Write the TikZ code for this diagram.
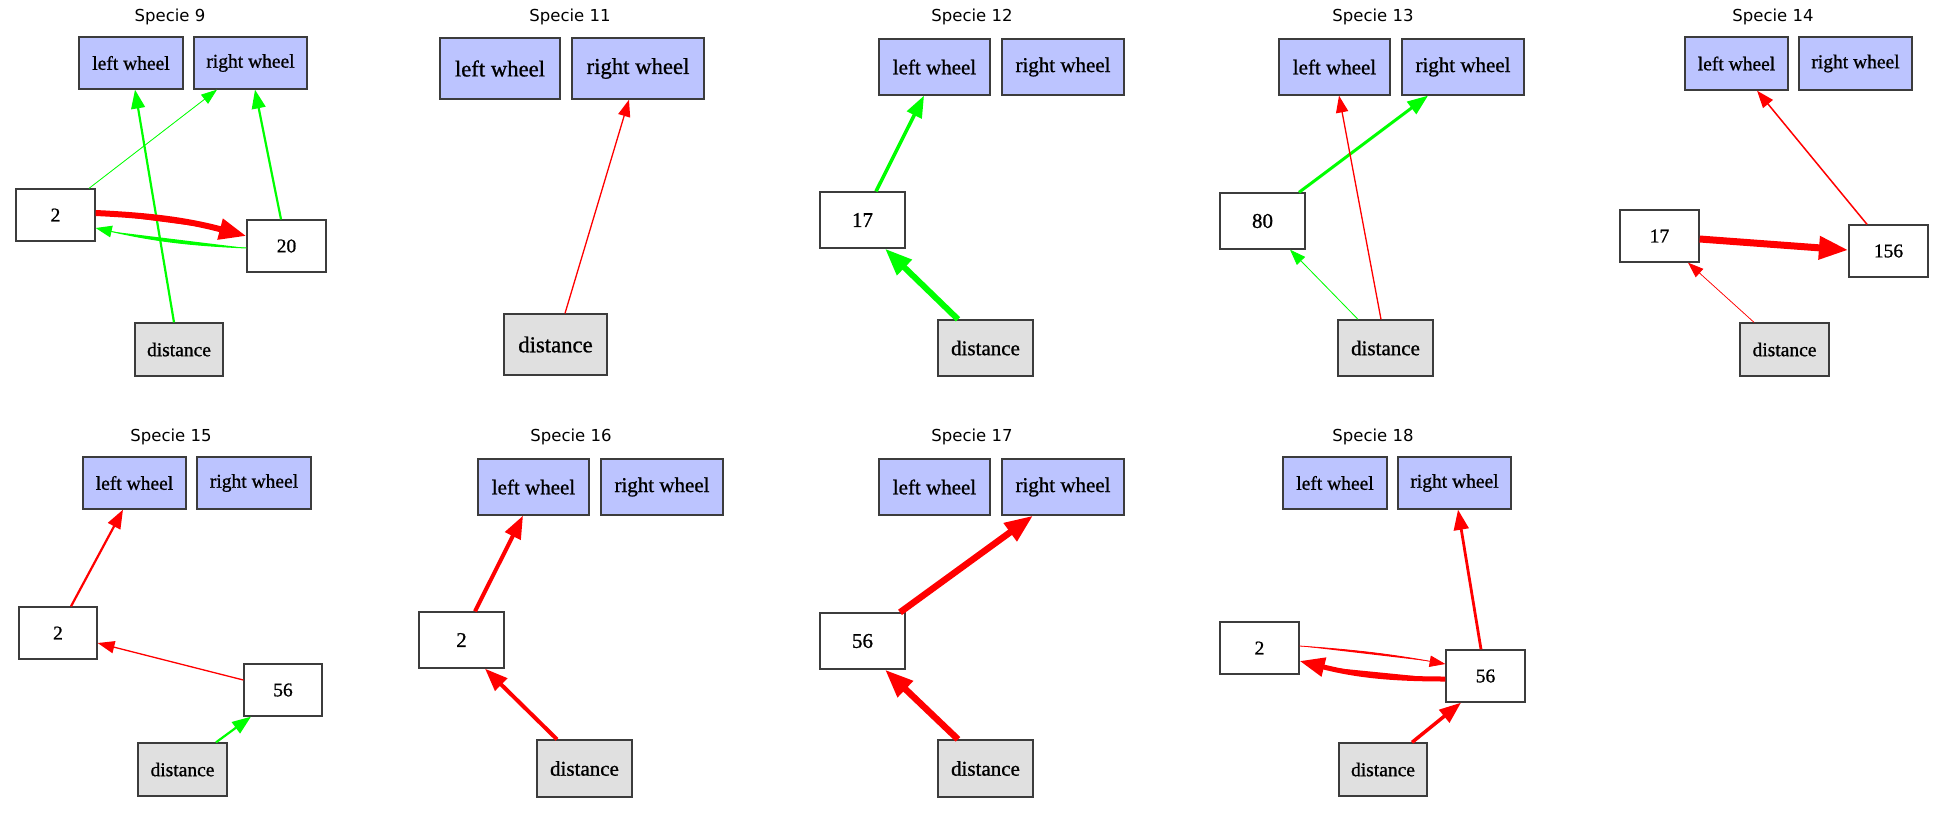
\documentclass[tikz,border=0pt]{standalone}
\usepackage{fontspec}
\usetikzlibrary{arrows.meta}
\newfontfamily\lab[FakeBold=0.9]{Liberation Serif}
\newfontfamily\ttl{DejaVu Sans}
\definecolor{wheelfill}{RGB}{188,196,255}
\definecolor{distfill}{RGB}{224,224,224}
\definecolor{boxline}{RGB}{60,60,60}
\definecolor{gE}{RGB}{0,255,0}
\definecolor{rE}{RGB}{255,0,0}
\tikzset{
  lbl/.style={font=\lab\fontsize{#1}{#1}\selectfont},
  box/.style={draw=boxline, line width=1.3pt, inner sep=0pt, text=black},
  wheel/.style={box, fill=wheelfill},
  dist/.style={box, fill=distfill},
  hidn/.style={box, fill=white},
  title/.style={font=\ttl\fontsize{16.5}{16.5}\selectfont, inner sep=0pt},
  conn/.style={line width=#1, -{Triangle[length=14pt 2.2, width=10pt 1.7]}},
  gc/.style={conn=#1, draw=gE, fill=gE},
  rc/.style={conn=#1, draw=rE, fill=rE},
}
\begin{document}
\begin{tikzpicture}[x=1pt, y=-1pt]
\fill[white] (0,0) rectangle (1942,812);
\useasboundingbox (0,0) rectangle (1942,812);

% ---------------- Specie 9
\begin{scope}[every node/.append style={lbl=19.5}]
\node[title] (t9) at (170,17) {Specie 9};
\node[wheel, minimum width=104pt, minimum height=52pt] (lw9) at (131,63) {left wheel};
\node[wheel, minimum width=113pt, minimum height=52pt] (rw9) at (250.5,63) {right wheel};
\node[hidn, minimum width=79pt, minimum height=52pt] (a9) at (55.5,215) {2};
\node[hidn, minimum width=79pt, minimum height=52pt] (b9) at (286.5,246) {20};
\node[dist, minimum width=88pt, minimum height=53pt] (d9) at (179,349.5) {distance};
\draw[gc=2.2pt] ([xshift=-5pt]d9.north) -- ([xshift=4pt]lw9.south);
\draw[gc=0.8pt] ([xshift=33.5pt]a9.north) -- ([xshift=-33.5pt]rw9.south);
\draw[gc=2.2pt] ([xshift=-5.5pt]b9.north) -- ([xshift=4.5pt]rw9.south);
\draw[rc=6pt] ([yshift=2pt]a9.east) to[bend left=6] ([yshift=10pt]b9.west);
\draw[gc=1pt] ([yshift=-2pt]b9.west) to[bend left=5] ([yshift=-13pt]a9.east);
\end{scope}

% ---------------- Specie 11
\begin{scope}[every node/.append style={lbl=22.7}]
\node[title] (t11) at (570,17) {Specie 11};
\node[wheel, minimum width=120pt, minimum height=61pt] (lw11) at (500,68.5) {left wheel};
\node[wheel, minimum width=132pt, minimum height=61pt] (rw11) at (638,68.5) {right wheel};
\node[dist, minimum width=103pt, minimum height=61pt] (d11) at (555.5,344.5) {distance};
\draw[rc=1.3pt] ([xshift=9.5pt]d11.north) -- ([xshift=-9pt]rw11.south);
\end{scope}

% ---------------- Specie 12
\begin{scope}[every node/.append style={lbl=21}]
\node[title] (t12) at (972,17) {Specie 12};
\node[wheel, minimum width=111pt, minimum height=56pt] (lw12) at (934.5,67) {left wheel};
\node[wheel, minimum width=122pt, minimum height=56pt] (rw12) at (1063,67) {right wheel};
\node[hidn, minimum width=85pt, minimum height=56pt] (a12) at (862.5,220) {17};
\node[dist, minimum width=95pt, minimum height=56pt] (d12) at (985.5,348) {distance};
\draw[gc=3.5pt] ([xshift=13.5pt]a12.north) -- ([xshift=-10.5pt]lw12.south);
\draw[gc=6pt] ([xshift=-27.5pt]d12.north) -- ([xshift=22.5pt]a12.south);
\end{scope}

% ---------------- Specie 13
\begin{scope}[every node/.append style={lbl=21}]
\node[title] (t13) at (1373,17) {Specie 13};
\node[wheel, minimum width=111pt, minimum height=56pt] (lw13) at (1334.5,67) {left wheel};
\node[wheel, minimum width=122pt, minimum height=56pt] (rw13) at (1463,67) {right wheel};
\node[hidn, minimum width=85pt, minimum height=56pt] (a13) at (1262.5,221) {80};
\node[dist, minimum width=95pt, minimum height=56pt] (d13) at (1385.5,348) {distance};
\draw[gc=3pt] ([xshift=36.5pt]a13.north) -- ([xshift=-35pt]rw13.south);
\draw[rc=1.3pt] ([xshift=-4.5pt]d13.north) -- ([xshift=4.5pt]lw13.south);
\draw[gc=0.8pt] ([xshift=-27.5pt]d13.north) -- ([xshift=27.5pt]a13.south);
\end{scope}

% ---------------- Specie 14
\begin{scope}[every node/.append style={lbl=19.5}]
\node[title] (t14) at (1773,17) {Specie 14};
\node[wheel, minimum width=103pt, minimum height=53pt] (lw14) at (1736.5,63.5) {left wheel};
\node[wheel, minimum width=113pt, minimum height=53pt] (rw14) at (1855.5,63.5) {right wheel};
\node[hidn, minimum width=79pt, minimum height=52pt] (a14) at (1659.5,236) {17};
\node[hidn, minimum width=79pt, minimum height=52pt] (b14) at (1888.5,251) {156};
\node[dist, minimum width=89pt, minimum height=53pt] (d14) at (1784.5,349.5) {distance};
\draw[rc=1.5pt] ([xshift=-21.5pt]b14.north) -- ([xshift=20.5pt]lw14.south);
\draw[rc=7pt] ([yshift=-3pt]a14.east) -- ([yshift=1pt]b14.west);
\draw[rc=0.7pt] ([xshift=-30.5pt]d14.north) -- ([xshift=28.5pt]a14.south);
\end{scope}

% ---------------- Specie 15
\begin{scope}[every node/.append style={lbl=19.5}]
\node[title] (t15) at (171,437) {Specie 15};
\node[wheel, minimum width=103pt, minimum height=52pt] (lw15) at (134.5,483) {left wheel};
\node[wheel, minimum width=114pt, minimum height=52pt] (rw15) at (254,483) {right wheel};
\node[hidn, minimum width=78pt, minimum height=52pt] (a15) at (58,633) {2};
\node[hidn, minimum width=78pt, minimum height=52pt] (b15) at (283,690) {56};
\node[dist, minimum width=89pt, minimum height=53pt] (d15) at (182.5,769.5) {distance};
\draw[rc=2.2pt] ([xshift=13pt]a15.north) -- ([xshift=-11.5pt]lw15.south);
\draw[rc=1.3pt] ([yshift=10pt]b15.west) -- ([yshift=-10pt]a15.east);
\draw[gc=2.2pt] ([xshift=33.5pt]d15.north) -- ([xshift=-32pt]b15.south);
\end{scope}

% ---------------- Specie 16
\begin{scope}[every node/.append style={lbl=21}]
\node[title] (t16) at (571,437) {Specie 16};
\node[wheel, minimum width=111pt, minimum height=56pt] (lw16) at (533.5,487) {left wheel};
\node[wheel, minimum width=122pt, minimum height=56pt] (rw16) at (662,487) {right wheel};
\node[hidn, minimum width=85pt, minimum height=56pt] (a16) at (461.5,640) {2};
\node[dist, minimum width=95pt, minimum height=57pt] (d16) at (584.5,768.5) {distance};
\draw[rc=4pt] ([xshift=13.5pt]a16.north) -- ([xshift=-10.5pt]lw16.south);
\draw[rc=4pt] ([xshift=-27.5pt]d16.north) -- ([xshift=23.5pt]a16.south);
\end{scope}

% ---------------- Specie 17
\begin{scope}[every node/.append style={lbl=21}]
\node[title] (t17) at (972,437) {Specie 17};
\node[wheel, minimum width=111pt, minimum height=56pt] (lw17) at (934.5,487) {left wheel};
\node[wheel, minimum width=122pt, minimum height=56pt] (rw17) at (1063,487) {right wheel};
\node[hidn, minimum width=85pt, minimum height=56pt] (a17) at (862.5,641) {56};
\node[dist, minimum width=95pt, minimum height=57pt] (d17) at (985.5,768.5) {distance};
\draw[rc=6.5pt] ([xshift=37.5pt]a17.north) -- ([xshift=-30pt]rw17.south);
\draw[rc=6.5pt] ([xshift=-27.5pt]d17.north) -- ([xshift=22.5pt]a17.south);
\end{scope}

% ---------------- Specie 18
\begin{scope}[every node/.append style={lbl=19.5}]
\node[title] (t18) at (1373,437) {Specie 18};
\node[wheel, minimum width=104pt, minimum height=52pt] (lw18) at (1335,483) {left wheel};
\node[wheel, minimum width=113pt, minimum height=52pt] (rw18) at (1454.5,483) {right wheel};
\node[hidn, minimum width=79pt, minimum height=52pt] (a18) at (1259.5,648) {2};
\node[hidn, minimum width=79pt, minimum height=52pt] (b18) at (1485.5,676) {56};
\node[dist, minimum width=88pt, minimum height=53pt] (d18) at (1383,769.5) {distance};
\draw[rc=2.8pt] ([xshift=-4.5pt]b18.north) -- ([xshift=3.5pt]rw18.south);
\draw[rc=0.8pt] ([yshift=2pt]a18.east) to[bend left=3] ([yshift=12pt]b18.west);
\draw[rc=5pt] ([yshift=-3pt]b18.west) to[bend left=7] ([yshift=-13pt]a18.east);
\draw[rc=3.5pt] ([xshift=29pt]d18.north) -- ([xshift=-24.5pt]b18.south);
\end{scope}
\end{tikzpicture}
\end{document}
